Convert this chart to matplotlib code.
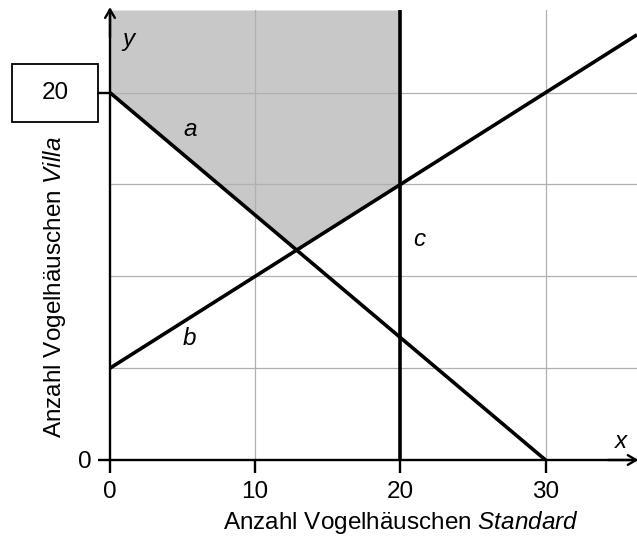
import numpy as np
import matplotlib.pyplot as plt
from matplotlib.patches import Rectangle

plt.rcParams['font.family'] = ['Liberation Sans', 'DejaVu Sans']
plt.rcParams['mathtext.fontset'] = 'custom'
plt.rcParams['mathtext.rm'] = 'Liberation Sans'
plt.rcParams['mathtext.it'] = 'Liberation Sans:italic'

# === DATA ===
x_max, y_max = 36.3, 24.5
a_x = [0, 30]
a_y = [20, 0]
b_x = [0, 36.3]
b_y = [5, 23.15]
c_x = [20, 20]
c_y = [0, 24.5]
x_ticks = [0, 10, 20, 30]
x_grid = [10, 20, 30]
y_grid = [5, 10, 15, 20]
line_labels = {"a": (5.5, 18.0), "b": (5.5, 6.6), "c": (21.3, 12.0)}

FS = 17.5

# === FIGURE ===
fig = plt.figure(figsize=(6.37, 5.38), dpi=100)
ax = fig.add_axes([110/637, 78/538, 527/637, 450/538])
ax.set_xlim(0, x_max)
ax.set_ylim(0, y_max)

# shaded feasible region: above a and b, left of c
xs = np.linspace(0, 20, 400)
lower = np.maximum(np.interp(xs, a_x, a_y), np.interp(xs, b_x, b_y))
ax.fill_between(xs, lower, y_max, color='#c8c8c8', lw=0, zorder=1)

for gx in x_grid:
    ax.axvline(gx, color='#b0b0b0', lw=0.9, zorder=2)
for gy in y_grid:
    ax.axhline(gy, color='#b0b0b0', lw=0.9, zorder=2)

lw = 2.6
ax.plot(a_x, a_y, color='black', lw=lw, zorder=3, solid_capstyle='butt')
ax.plot(b_x, b_y, color='black', lw=lw, zorder=3, solid_capstyle='butt')
ax.plot(c_x, c_y, color='black', lw=lw, zorder=3, solid_capstyle='butt')

for name, (lx, ly) in line_labels.items():
    ax.text(lx, ly, name, fontsize=FS, style='italic', ha='center', va='center', zorder=4)

# axes
for s in ['top', 'right']:
    ax.spines[s].set_visible(False)
for s in ['left', 'bottom']:
    ax.spines[s].set_linewidth(1.7)
    ax.spines[s].set_zorder(5)
ax.set_xticks(x_ticks)
ax.set_xticklabels([str(t) for t in x_ticks], fontsize=FS)
ax.set_yticks([0, 20])
ax.set_yticklabels(['0', ''], fontsize=FS)
ax.tick_params(axis='both', direction='out', length=9, width=1.7)
ax.tick_params(axis='x', pad=6)
ax.tick_params(axis='y', pad=4)

# arrows
ax.annotate('', xy=(0, y_max + 0.15), xytext=(0, y_max - 1.5),
            arrowprops=dict(arrowstyle='->,head_length=0.6,head_width=0.35', lw=1.7,
                            shrinkA=0, shrinkB=0), annotation_clip=False)
ax.annotate('', xy=(x_max + 0.1, 0), xytext=(x_max - 2, 0),
            arrowprops=dict(arrowstyle='->,head_length=0.6,head_width=0.35', lw=1.7,
                            shrinkA=0, shrinkB=0), annotation_clip=False)
ax.text(1.25, 22.9, 'y', fontsize=FS, style='italic', ha='center', va='center')
ax.text(35.2, 1.0, 'x', fontsize=FS, style='italic', ha='center', va='center')

# boxed label for y = 20
fig.canvas.draw()
px, py = ax.transData.transform((0, 20))
inv = fig.transFigure.inverted()
fx, fy = inv.transform((px, py))
bw, bh = 86/637, 58/538
bx = fx - 12/637 - bw
fig.patches.append(Rectangle((bx, fy - bh/2), bw, bh, transform=fig.transFigure,
                             fill=False, edgecolor='black', lw=1.3))
fig.text(bx + bw/2, fy, '20', fontsize=FS, ha='center', va='center')
fig.add_artist(plt.Line2D([bx + bw, fx], [fy, fy], transform=fig.transFigure,
                          color='black', lw=1.3))

ax.text(0.552, -0.138, 'Anzahl Vogelhäuschen $\\it{Standard}$', fontsize=FS,
        transform=ax.transAxes, ha='center', va='center')
fig.text(55/637, 1 - 287/538, 'Anzahl Vogelhäuschen $\\it{Villa}$', fontsize=FS,
         rotation=90, ha='center', va='center')

fig.savefig('out.png', dpi=100)
